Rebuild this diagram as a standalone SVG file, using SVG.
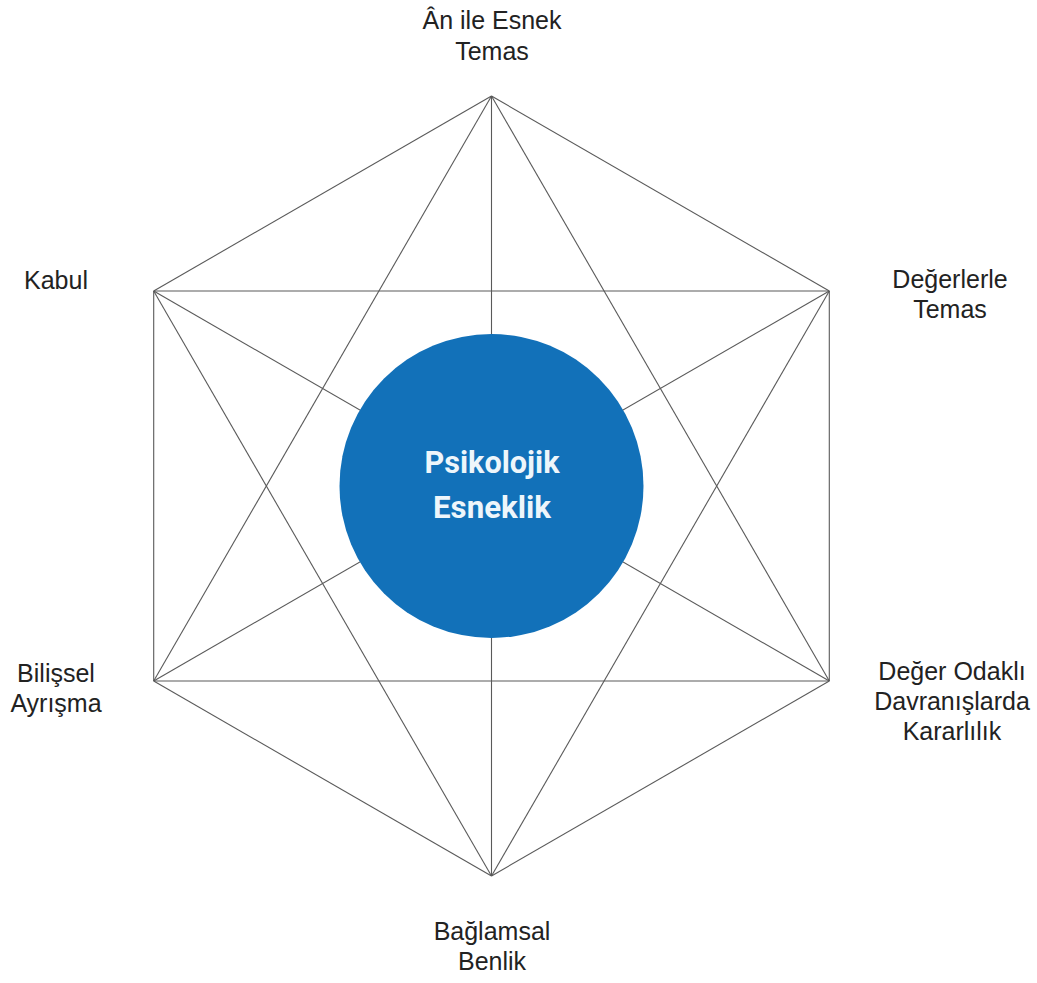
<svg xmlns="http://www.w3.org/2000/svg" width="1037" height="983" viewBox="0 0 1037 983">
<style>
.edge{stroke:#5a5a5a;stroke-width:1.1;fill:none}
.lbl{font-family:"Liberation Sans",Arial,sans-serif;font-size:25px;fill:#222;text-anchor:middle}
.ctr{font-family:Roboto,"Liberation Sans",sans-serif;font-weight:bold;font-size:32px;fill:#eef6fb;text-anchor:middle}
</style>
<rect width="1037" height="983" fill="#ffffff"/>
<g id="connectors">
<line class="edge" x1="491.5" y1="96" x2="829.3" y2="291"/>
<line class="edge" x1="491.5" y1="96" x2="829.3" y2="681"/>
<line class="edge" x1="491.5" y1="96" x2="491.5" y2="876"/>
<line class="edge" x1="491.5" y1="96" x2="153.7" y2="681"/>
<line class="edge" x1="491.5" y1="96" x2="153.7" y2="291"/>
<line class="edge" x1="829.3" y1="291" x2="829.3" y2="681"/>
<line class="edge" x1="829.3" y1="291" x2="491.5" y2="876"/>
<line class="edge" x1="829.3" y1="291" x2="153.7" y2="681"/>
<line class="edge" x1="829.3" y1="291" x2="153.7" y2="291"/>
<line class="edge" x1="829.3" y1="681" x2="491.5" y2="876"/>
<line class="edge" x1="829.3" y1="681" x2="153.7" y2="681"/>
<line class="edge" x1="829.3" y1="681" x2="153.7" y2="291"/>
<line class="edge" x1="491.5" y1="876" x2="153.7" y2="681"/>
<line class="edge" x1="491.5" y1="876" x2="153.7" y2="291"/>
<line class="edge" x1="153.7" y1="681" x2="153.7" y2="291"/>
</g>
<g id="center">
<circle cx="491.5" cy="486" r="152" fill="#1271b9"/>
<text class="ctr" x="492" y="473" textLength="135" lengthAdjust="spacingAndGlyphs">Psikolojik</text>
<text class="ctr" x="492" y="518" textLength="118" lengthAdjust="spacingAndGlyphs">Esneklik</text>
</g>
<g id="n-top"><text class="lbl" x="492" y="29">Ân ile Esnek</text><text class="lbl" x="492" y="60">Temas</text></g>
<g id="n-ur"><text class="lbl" x="950" y="288">Değerlerle</text><text class="lbl" x="950" y="318">Temas</text></g>
<g id="n-lr"><text class="lbl" x="952" y="680">Değer Odaklı</text><text class="lbl" x="952" y="710">Davranışlarda</text><text class="lbl" x="952" y="740">Kararlılık</text></g>
<g id="n-bottom"><text class="lbl" x="492" y="940">Bağlamsal</text><text class="lbl" x="492" y="970">Benlik</text></g>
<g id="n-ll"><text class="lbl" x="56" y="682">Bilişsel</text><text class="lbl" x="56" y="712">Ayrışma</text></g>
<g id="n-ul"><text class="lbl" x="56" y="289">Kabul</text></g>
</svg>
